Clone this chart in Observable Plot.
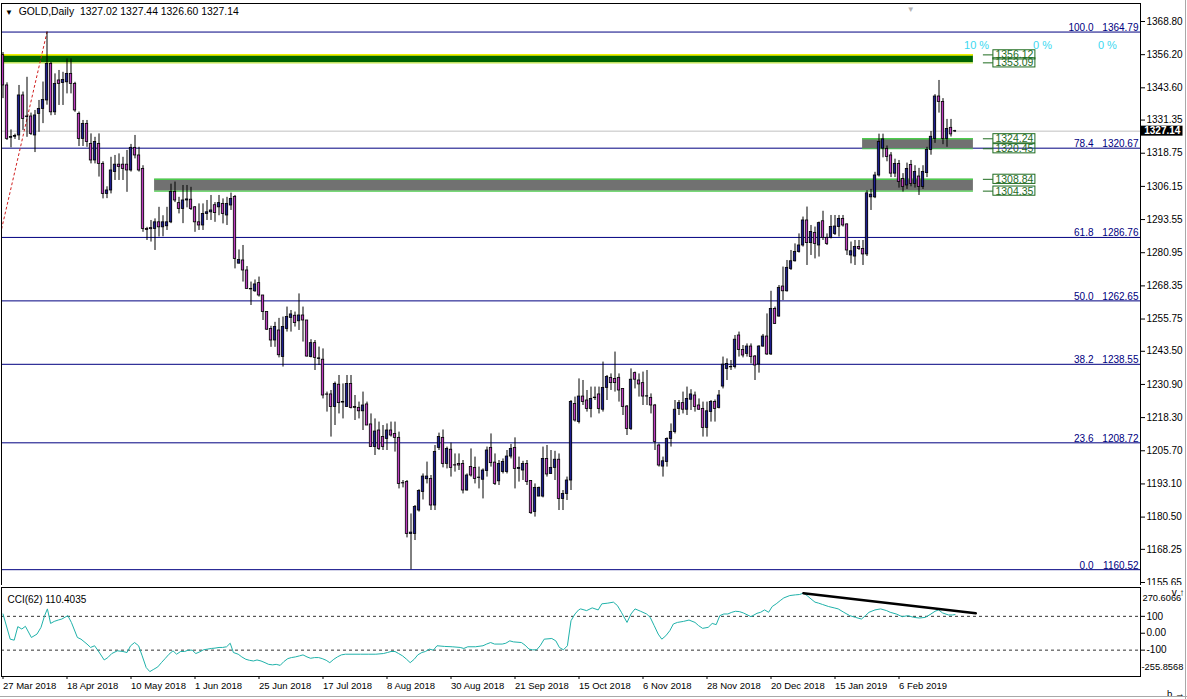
<!DOCTYPE html>
<html><head><meta charset="utf-8">
<script src="https://cdn.jsdelivr.net/npm/d3@7"></script>
<script src="https://cdn.jsdelivr.net/npm/@observablehq/plot@0.6"></script>
<style>
body{margin:0;background:#fff;font-family:"Liberation Sans",Arial,sans-serif;}
#wrap{position:relative;width:1187px;height:699px;overflow:hidden;background:#fff;}
#main{position:absolute;left:0;top:0;}
#cci{position:absolute;left:0;top:585px;}
#hdr{position:absolute;left:5px;top:5px;font-size:10.4px;line-height:13px;color:#000;white-space:pre;}
#hdr .tri{font-size:8px;}
.edgeR{position:absolute;left:1185px;top:0;width:1px;height:699px;background:#a8a8a8;}
.edgeB{position:absolute;left:0;top:696px;width:1187px;height:1px;background:#a8a8a8;}
</style></head><body>
<div id="wrap"><div id="main"></div><div id="cci"></div>
<div id="hdr"><span class="tri">▼</span>  GOLD,Daily  1327.02 1327.44 1326.60 1327.14</div>
<div class="edgeR"></div><div class="edgeB"></div></div>
<script>
// ---- daily OHLC (bar 0 = 27 Mar 2018) ----
const opens = [
1356.0,1344.5,1324.6,1325.0,1325.5,1340.7,1332.5,1332.7,1325.5,1333.7,
1335.6,1338.8,1352.7,1334.3,1346.4,1345.4,1345.7,1348.9,1345.1,1333.7,
1324.2,1329.9,1322.3,1316.0,1322.3,1314.7,1303.3,1304.6,1311.6,1314.4,
1314.4,1314.4,1312.2,1320.8,1317.9,1312.8,1290.0,1290.3,1290.0,1292.5,
1290.6,1291.0,1292.5,1304.0,1299.8,1297.6,1300.8,1301.1,1298.2,1292.5,
1291.3,1295.7,1296.3,1299.0,1298.2,1299.5,1295.1,1298.9,1302.1,1276.8,
1278.0,1274.2,1267.2,1266.3,1269.4,1264.7,1258.4,1252.0,1247.6,1251.4,
1241.3,1252.0,1256.2,1257.0,1254.9,1257.1,1255.2,1241.3,1246.6,1240.6,
1240.3,1227.1,1227.1,1222.3,1230.8,1224.0,1222.3,1231.1,1222.3,1222.0,
1220.7,1223.3,1215.7,1207.1,1213.4,1210.9,1210.2,1213.4,1212.1,1210.6,
1193.4,1193.8,1174.1,1174.1,1183.0,1190.0,1194.9,1195.0,1184.9,1206.8,
1210.6,1200.7,1206.1,1200.2,1200.7,1200.7,1190.6,1199.5,1199.2,1195.4,
1194.7,1198.0,1206.8,1201.2,1194.1,1197.6,1197.6,1203.5,1206.8,1198.8,
1198.2,1200.7,1194.2,1182.4,1188.3,1188.3,1202.6,1196.9,1199.2,1202.3,
1187.4,1189.3,1194.4,1223.5,1216.6,1226.3,1224.8,1221.6,1225.7,1227.1,
1221.3,1229.6,1233.4,1233.0,1233.4,1229.2,1222.5,1214.0,1235.2,1232.4,
1231.4,1226.3,1225.8,1222.9,1207.7,1199.7,1201.4,1210.2,1212.8,1221.6,
1223.8,1221.3,1225.1,1226.7,1222.9,1221.6,1214.4,1220.4,1224.2,1222.0,
1230.1,1236.8,1237.4,1237.5,1249.5,1244.0,1242.5,1245.3,1241.5,1238.5,
1245.3,1249.1,1242.3,1259.6,1256.7,1268.1,1266.3,1274.8,1277.7,1281.2,
1283.7,1293.2,1284.6,1288.5,1283.7,1292.9,1286.6,1286.6,1288.1,1290.7,
1293.8,1291.7,1279.9,1279.5,1283.1,1282.4,1280.3,1302.0,1302.0,1310.3,
1320.5,1320.4,1317.9,1311.0,1314.7,1309.0,1306.5,1314.3,1307.1,1309.9,
1305.9,1311.2,1320.0,1324.2,1340.3,1338.2,1324.2,1328.4,1327.02];
const highs = [
1357.0,1345.5,1327.6,1326.0,1344.5,1342.0,1347.6,1334.0,1335.0,1338.8,
1345.8,1364.79,1353.3,1348.9,1350.2,1349.5,1354.6,1354.6,1345.7,1334.4,
1331.2,1331.2,1326.1,1324.8,1326.1,1315.5,1306.0,1317.2,1317.9,1318.5,
1317.2,1319.8,1322.1,1325.5,1321.0,1314.0,1290.6,1293.2,1293.8,1298.2,
1295.0,1298.2,1307.0,1307.8,1302.0,1306.5,1306.5,1305.8,1298.5,1299.5,
1299.5,1300.8,1302.7,1300.0,1302.7,1301.4,1302.0,1303.6,1302.7,1282.0,
1283.7,1275.7,1269.8,1270.6,1271.7,1264.7,1258.4,1253.0,1254.5,1256.0,
1256.5,1260.3,1259.0,1258.4,1265.3,1260.3,1255.2,1247.9,1247.6,1245.1,
1244.4,1228.0,1228.6,1231.8,1234.3,1231.1,1234.3,1234.3,1226.7,1224.2,
1228.0,1224.2,1219.7,1217.8,1216.6,1215.3,1215.9,1216.6,1216.6,1212.8,
1194.4,1194.4,1181.7,1184.9,1190.9,1196.9,1201.4,1196.3,1207.7,1212.4,
1213.6,1207.1,1208.6,1204.5,1204.5,1202.0,1196.9,1206.4,1203.3,1199.5,
1198.8,1207.1,1212.1,1204.5,1202.0,1202.6,1205.8,1208.1,1210.6,1203.3,
1201.7,1202.0,1194.4,1193.1,1191.9,1207.1,1207.7,1205.8,1205.5,1204.5,
1190.6,1195.7,1224.8,1226.1,1233.0,1232.4,1228.6,1229.9,1229.9,1229.9,
1239.4,1234.3,1234.9,1243.2,1234.9,1229.2,1222.9,1236.8,1235.6,1234.9,
1235.6,1236.2,1227.3,1223.3,1208.3,1203.3,1210.6,1215.9,1224.8,1224.8,
1228.0,1229.9,1228.9,1228.0,1225.4,1224.2,1224.2,1224.8,1225.0,1228.6,
1241.3,1240.6,1240.0,1249.5,1250.8,1245.7,1246.3,1246.3,1241.9,1245.6,
1249.9,1257.7,1266.3,1260.3,1268.5,1275.5,1278.0,1281.8,1284.3,1288.1,
1294.5,1298.3,1291.3,1290.7,1292.6,1296.7,1288.1,1295.1,1295.1,1295.1,
1295.1,1291.9,1285.0,1285.6,1285.6,1285.6,1304.5,1305.0,1311.5,1326.0,
1326.0,1321.5,1319.0,1316.5,1316.0,1311.0,1315.0,1316.0,1314.0,1313.0,
1314.0,1321.0,1327.0,1341.0,1346.4,1339.5,1331.6,1331.6,1327.44];
const lows = [
1339.5,1323.6,1320.8,1324.0,1323.6,1327.4,1324.8,1325.5,1319.0,1326.7,
1330.0,1337.0,1333.0,1333.1,1336.9,1336.9,1341.3,1341.3,1334.3,1321.3,
1321.3,1321.0,1314.7,1314.7,1309.7,1301.4,1301.5,1303.3,1308.4,1308.4,
1308.4,1303.9,1311.6,1316.6,1311.6,1288.7,1285.6,1285.0,1281.8,1286.9,
1287.0,1289.4,1292.0,1300.0,1295.7,1292.0,1298.0,1297.0,1288.7,1289.4,
1289.4,1293.2,1293.2,1292.5,1295.0,1291.9,1291.3,1297.0,1274.8,1276.7,
1269.8,1267.2,1260.9,1265.9,1264.1,1255.2,1251.4,1245.0,1245.0,1241.0,
1237.5,1250.8,1250.8,1252.7,1251.4,1247.0,1241.3,1241.0,1236.2,1238.1,
1225.4,1220.4,1210.9,1215.3,1219.7,1217.8,1222.3,1221.6,1217.2,1217.8,
1213.4,1215.3,1207.1,1203.9,1205.8,1205.8,1205.8,1210.9,1205.2,1191.2,
1191.6,1172.6,1160.52,1171.6,1182.4,1187.0,1193.1,1183.0,1183.0,1205.8,
1199.2,1198.8,1195.7,1197.6,1198.2,1189.3,1190.4,1195.7,1193.1,1191.2,
1187.4,1195.7,1199.5,1192.5,1192.5,1196.9,1196.9,1202.6,1191.2,1193.8,
1194.4,1192.5,1181.5,1180.5,1188.3,1187.8,1195.7,1196.7,1194.4,1183.0,
1183.0,1186.8,1190.6,1216.6,1215.9,1222.9,1220.4,1218.2,1224.8,1219.7,
1220.4,1224.8,1228.6,1228.0,1224.2,1219.1,1211.5,1213.4,1229.2,1226.1,
1222.9,1222.9,1219.7,1205.8,1199.5,1195.7,1199.5,1207.1,1212.1,1219.1,
1219.7,1219.1,1221.0,1220.4,1221.0,1210.9,1210.9,1216.6,1216.6,1221.6,
1229.2,1232.4,1236.2,1236.8,1241.3,1241.0,1241.3,1238.7,1232.4,1235.2,
1245.0,1241.9,1241.9,1253.7,1256.5,1262.8,1266.0,1274.2,1277.4,1280.8,
1283.1,1276.1,1279.9,1278.6,1279.3,1285.6,1283.7,1286.2,1287.5,1286.9,
1290.7,1279.9,1276.7,1276.1,1281.8,1276.1,1279.5,1297.0,1301.5,1309.7,
1317.0,1315.5,1309.5,1309.5,1305.5,1304.0,1305.0,1306.0,1305.5,1302.7,
1305.0,1309.5,1318.0,1322.5,1334.0,1322.0,1321.0,1324.9,1326.60];
const closes = [
1344.5,1324.2,1324.9,1325.3,1340.7,1331.8,1332.7,1326.1,1333.1,1335.6,
1339.0,1352.7,1334.3,1345.1,1345.1,1346.6,1348.9,1345.1,1335.0,1324.2,
1329.9,1323.0,1316.0,1323.0,1314.7,1303.3,1304.6,1312.2,1314.4,1313.5,
1312.8,1312.2,1320.8,1317.9,1312.2,1290.0,1289.6,1289.9,1292.5,1290.6,
1292.5,1292.5,1304.0,1300.8,1297.6,1300.8,1301.2,1297.6,1292.5,1291.3,
1295.7,1296.3,1297.0,1296.0,1299.8,1295.7,1299.5,1301.4,1278.6,1278.2,
1274.2,1267.2,1267.0,1268.9,1264.7,1258.4,1251.7,1247.6,1252.7,1242.0,
1252.7,1256.5,1257.5,1254.2,1257.1,1255.2,1241.5,1246.6,1241.0,1240.8,
1226.7,1227.0,1222.3,1231.1,1223.8,1224.2,1231.1,1222.0,1222.0,1220.7,
1222.9,1215.3,1207.1,1213.0,1206.4,1207.1,1213.4,1211.5,1210.6,1193.1,
1193.3,1174.1,1174.6,1184.3,1190.4,1195.9,1195.9,1184.9,1205.2,1210.9,
1200.7,1206.4,1199.2,1200.1,1200.1,1190.6,1196.3,1196.3,1195.0,1195.5,
1198.2,1205.8,1201.0,1193.1,1200.7,1201.4,1203.5,1206.4,1198.8,1199.2,
1200.7,1193.8,1182.0,1191.6,1191.6,1202.6,1196.7,1199.2,1202.3,1187.4,
1189.3,1194.4,1224.2,1217.2,1226.3,1224.2,1221.6,1225.4,1225.9,1221.6,
1229.6,1233.7,1231.4,1231.4,1228.6,1222.3,1214.0,1232.7,1232.7,1230.9,
1226.3,1226.4,1222.9,1209.0,1200.1,1201.7,1210.2,1212.8,1221.3,1223.8,
1221.3,1225.4,1227.1,1222.3,1221.3,1214.4,1220.7,1224.2,1221.6,1226.7,
1238.4,1238.7,1237.5,1247.9,1244.0,1241.9,1245.3,1241.3,1238.1,1245.3,
1249.1,1242.3,1259.6,1253.9,1267.6,1266.3,1275.2,1277.7,1281.2,1283.7,
1293.2,1284.6,1288.8,1284.3,1292.2,1286.6,1284.3,1290.7,1290.9,1293.8,
1291.3,1281.8,1281.5,1283.1,1282.4,1280.3,1303.5,1303.0,1310.3,1323.0,
1324.0,1317.3,1311.0,1314.7,1307.8,1305.9,1312.8,1307.1,1311.6,1305.9,
1311.6,1320.0,1325.0,1340.3,1338.2,1324.2,1328.0,1325.9,1327.14];

// ---- CCI(62) (bar position, value) ----
const cciBar = [0,1.8,2.8,3.7,4.7,5.6,7.1,8.5,9.5,10.4,11.1,11.9,12.8,13.8,14.7,16.2,17.1,18.6,19.5,21,
21.9,22.9,23.8,25.3,26.2,27.2,28.6,30,31,31.9,32.9,33.9,34.8,35.8,36.7,37.7,38.7,39.6,40.6,41.5,
42.5,43.4,44.4,45.4,46.3,47.3,48.2,49.2,50.1,51.1,52.1,53,54,54.9,55.9,56.8,57.6,58.8,59.7,60.7,
61.6,62.6,63.5,64.5,65.5,66.4,67.4,68.3,69.3,70.2,71.2,72.1,73.1,74.1,75,76,76.9,77.9,78.9,79.8,
80.8,81.7,82.7,83.6,84.6,85.6,87.5,89.4,91.3,93.2,95.1,96.1,97,98,98.9,99.9,100.9,101.8,102.8,103.7,
104.7,105.6,106.6,107.6,108.5,110.4,112.3,114.3,115.2,116.2,118.1,120,120.9,121.9,122.9,124.8,125.7,126.7,127.6,129.6,
130.5,131.5,132.4,133.4,134.3,135.3,137.2,138.2,139.1,140.1,141.1,142,143,143.9,
144.4,145.9,147.3,148.8,149.7,151.2,152.6,153.6,154.6,156,157,158,159.4,160.9,161.8,162.8,163.8,164.7,165.7,166.7,
167.6,168.6,170.1,171.5,173,173.9,174.9,176.3,177.3,178.3,179.2,180.2,181.2,182.2,183.1,184.1,185.1,187,188.5,189.4,
190.4,191.4,192.3,193.3,194.3,195.2,196.7,198.1,199.1,200.1,201,202,203,203.9,204.9,206.4,207.8,208.8,210.2,211.7,
213.1,214.6,215.6,216.5,218,219.4,220.9,221.8,223.3,224.8,226.2,227.7,229.1,230.6,232,233,233.9,234.9,236.4,237.3,238];
const cciVal = [114,-35,-41,39,25,41,-25,-5,35,104,144,58,70,78,84,104,64,-25,-35,-64,
-84,-74,-104,-158,-144,-120,-104,-108,-114,-74,-55,-74,-134,-203,-227,-213,-199,-174,-148,-124,
-104,-124,-108,-108,-100,-100,-120,-110,-98,-94,-90,-88,-84,-84,-80,-59,-114,-124,-140,-154,
-160,-164,-158,-164,-174,-184,-187,-184,-190,-168,-150,-144,-140,-134,-128,-140,-148,-144,-144,-150,
-160,-174,-154,-140,-128,-124,-124,-124,-124,-124,-120,-114,-108,-108,-120,-134,-154,-174,-154,-128,
-114,-108,-94,-100,-74,-78,-80,-84,-90,-80,-80,-74,-64,-55,-64,-64,-59,-45,-51,-55,
-70,-94,-98,-98,-74,-35,-31,-45,-84,-98,-74,74,114,138,
144,134,150,138,174,178,184,164,124,64,114,144,130,114,94,45,-5,-35,-15,15,
55,64,70,78,64,45,29,35,58,51,104,114,114,124,130,128,120,98,118,124,
138,124,158,174,193,209,223,227,229,237,223,203,184,178,170,158,150,144,124,104,
94,84,104,124,138,144,134,124,114,98,104,94,90,94,114,130,138,120,108,108,110.4];
const cciTrendBar = [200.1, 243.2];
const cciTrendVal = [237, 118];
const cciLevels = [100, -100];
const cciTitle = "CCI(62) 110.4035";
const cciMax = 270.6066, cciMin = -255.8568;

// ---- axes ----
const dateTickBars = [0,16,32,48,64,80,96,112,128,144,160,176,192,208,224];
const dateLabels = ["27 Mar 2018","18 Apr 2018","10 May 2018","1 Jun 2018","25 Jun 2018","17 Jul 2018","8 Aug 2018","30 Aug 2018","21 Sep 2018","15 Oct 2018","6 Nov 2018","28 Nov 2018","20 Dec 2018","15 Jan 2019","6 Feb 2019"];
const priceTicks = [1368.80,1356.20,1343.60,1331.35,1318.75,1306.15,1293.55,1280.95,1268.35,1255.75,1243.50,1230.90,1218.30,1205.70,1193.10,1180.50,1168.25,1155.65];

// ---- Fibonacci retracement ----
const fibLevels = ["100.0","78.4","61.8","50.0","38.2","23.6","0.0"];
const fibPrices = [1364.79,1320.67,1286.76,1262.65,1238.55,1208.72,1160.52];
const fibAnchorBar = [-20, 11];
const fibAnchorPrice = [1160.52, 1364.79];

// ---- supply / demand zones ----
const zoneTop = [1356.12, 1324.24, 1308.84];
const zoneBottom = [1353.09, 1320.45, 1304.35];
const zoneStartBar = [-5, 214.9, 37.9];
const zoneEndBar = 242.6;
const zoneFill = ["#006400", "#717171", "#717171"];
const zoneEdgeTop = ["#eef000", "#4ccc4c", "#4ccc4c"];
const zoneEdgeBottom = ["#c8e84a", "#4ccc4c", "#4ccc4c"];
const pctLabels = ["10 %", "0 %", "0 %"];
const pctBars = [243.4, 259.9, 276.1];
const pctPrice = 1359.7;
const bid = 1327.14;

const bars = opens.map((o, i) => ({i, o, h: highs[i], l: lows[i], c: closes[i]}));
const zones = zoneTop.map((t, k) => ({t, b: zoneBottom[k], s: zoneStartBar[k], e: zoneEndBar, fill: zoneFill[k], et: zoneEdgeTop[k], eb: zoneEdgeBottom[k]}));
const zoneLabelPrices = zoneTop.flatMap((t, k) => [t, zoneBottom[k]]);
const fibLine = fibAnchorBar.map((b, k) => ({b, p: fibAnchorPrice[k]}));
const cci = cciBar.map((b, k) => ({b, v: cciVal[k]}));
const trend = cciTrendBar.map((b, k) => ({b, v: cciTrendVal[k]}));

const W = 1187, mL = 1, mR = 47;
const xDomain = [-0.375, 284.375];
const H1 = 585, mT1 = 3;
const yDomain = [1154.51, 1375.64];
const ppx = (yDomain[1] - yDomain[0]) / (H1 - mT1); // price per pixel
const font = '"Liberation Sans", Arial, sans-serif';
const BULL = "#1c1c8e", BEAR = "#bb3cbf";

const main = Plot.plot({
  width: W, height: H1, marginLeft: mL, marginRight: mR, marginTop: mT1, marginBottom: 0,
  x: {domain: xDomain, axis: null},
  y: {domain: yDomain, axis: null},
  style: {fontFamily: font, fontSize: "10px", background: "white", overflow: "visible"},
  marks: [
    Plot.ruleY(fibPrices, {stroke: "#000080", strokeWidth: 1}),
    Plot.ruleY([bid], {stroke: "#c0c0c0"}),
    Plot.rect(zones, {x1: "s", x2: "e", y1: "b", y2: "t", fill: d => d.fill, clip: true}),
    Plot.ruleY(zones, {y: "t", x1: "s", x2: "e", stroke: d => d.et, strokeWidth: 1.6, clip: true}),
    Plot.ruleY(zones, {y: "b", x1: "s", x2: "e", stroke: d => d.eb, strokeWidth: 1.2, clip: true}),
    Plot.line(fibLine, {x: "b", y: "p", stroke: "#d02020", strokeDasharray: "2,3", strokeWidth: 1, clip: true}),
    Plot.ruleX(bars, {x: "i", y1: "l", y2: "h", stroke: "black", strokeWidth: 1}),
    Plot.rect(bars, {
      x1: d => d.i - 0.3, x2: d => d.i + 0.3,
      y1: d => Math.min(d.o, d.c), y2: d => Math.max(d.o, d.c),
      fill: d => d.c >= d.o ? BULL : BEAR, stroke: "black", strokeWidth: 0.8
    }),
    Plot.text(fibPrices, {y: d => d, text: d => d.toFixed(2), frameAnchor: "right", textAnchor: "end", lineAnchor: "bottom", dx: -2, dy: -1, fill: "#000080"}),
    Plot.text(fibPrices, {y: d => d, text: d => fibLevels[fibPrices.indexOf(d)], frameAnchor: "right", textAnchor: "end", lineAnchor: "bottom", dx: -47, dy: -1, fill: "#000080"}),
    Plot.ruleY(zoneLabelPrices, {x1: zoneEndBar + 2.5, x2: zoneEndBar + 5, stroke: "#1e6b1e"}),
    Plot.rect(zoneLabelPrices, {x1: zoneEndBar + 5, x2: zoneEndBar + 15.5, y1: d => d - 4.6 * ppx, y2: d => d + 4.6 * ppx, fill: "none", stroke: "#1e6b1e"}),
    Plot.text(zoneLabelPrices, {x: zoneEndBar + 5.5, y: d => d, text: d => d.toFixed(2), textAnchor: "start", fill: "#1e6b1e", fontSize: 10.5}),
    Plot.text(pctLabels, {x: (d, i) => pctBars[i], y: pctPrice, text: d => d, fill: "#3cd8f0", fontSize: 11}),
    Plot.frame({stroke: "black"}),
    Plot.axisY(priceTicks, {anchor: "right", tickFormat: d => d.toFixed(2), tickSize: 4, tickPadding: 2, fontSize: 10}),
    Plot.rect([bid], {x1: 284.6, x2: 295, y1: d => d - 5 * ppx, y2: d => d + 5 * ppx, fill: "black"}),
    Plot.text([bid], {x: 285.3, y: d => d, text: d => d.toFixed(2), textAnchor: "start", fill: "white", fontWeight: "bold", fontSize: 10}),
    Plot.text(["▼"], {x: 226.9, frameAnchor: "top", dy: 3, fill: "#b4b4b4", fontSize: 8})
  ]
});
document.getElementById("main").append(main);

const H2 = 114;
const lower = Plot.plot({
  width: W, height: H2, marginLeft: mL, marginRight: mR, marginTop: 2, marginBottom: 23,
  x: {domain: xDomain, axis: null},
  y: {domain: [cciMin, cciMax], axis: null},
  style: {fontFamily: font, fontSize: "10px", background: "white", overflow: "visible"},
  marks: [
    Plot.ruleY(cciLevels, {stroke: "#333", strokeDasharray: "3,3"}),
    Plot.line(cci, {x: "b", y: "v", stroke: "#20b2aa", strokeWidth: 1, clip: true}),
    Plot.line(trend, {x: "b", y: "v", stroke: "black", strokeWidth: 2.5}),
    Plot.frame({stroke: "black"}),
    Plot.axisX(dateTickBars, {anchor: "bottom", tickFormat: d => dateLabels[dateTickBars.indexOf(d)], textAnchor: "start", tickSize: 3, tickPadding: 3, fontSize: 9.5}),
    Plot.axisY([100, 0, -100], {anchor: "right", tickFormat: d => d === 0 ? "0.00" : String(d), tickSize: 4, tickPadding: 2, fontSize: 10}),
    Plot.text([cciMax], {frameAnchor: "top-right", text: d => d.toFixed(4), textAnchor: "start", dx: 2, dy: 7, fontSize: 9.3}),
    Plot.text([cciMin], {frameAnchor: "bottom-right", text: d => d.toFixed(4), textAnchor: "start", dx: 1, dy: -7, fontSize: 9.3}),
    Plot.text([cciTitle], {frameAnchor: "top-left", textAnchor: "start", dx: 6, dy: 8, fontSize: 10})
  ]
});
document.getElementById("cci").append(lower);
</script>
</body></html>
